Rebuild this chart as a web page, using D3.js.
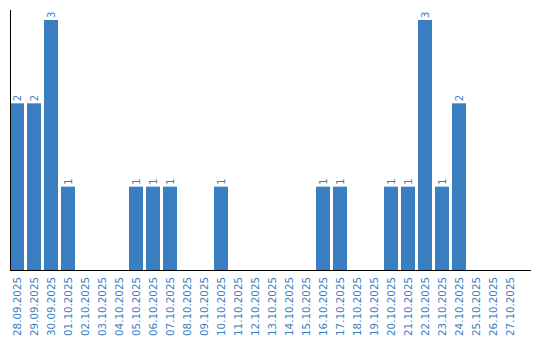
<!DOCTYPE html>
<html>
<head>
<meta charset="utf-8">
<script src="https://cdn.jsdelivr.net/npm/d3@7"></script>
<style>
body { margin: 0; background: #fff; }
text { font-family: "DejaVu Sans", sans-serif; }
</style>
</head>
<body>
<svg id="chart" width="540" height="340"></svg>
<script>
var days = ["28.09.2025", "29.09.2025", "30.09.2025", "01.10.2025", "02.10.2025",
			"03.10.2025", "04.10.2025", "05.10.2025", "06.10.2025", "07.10.2025",
			"08.10.2025", "09.10.2025", "10.10.2025", "11.10.2025", "12.10.2025",
			"13.10.2025", "14.10.2025", "15.10.2025", "16.10.2025", "17.10.2025",
			"18.10.2025", "19.10.2025", "20.10.2025", "21.10.2025", "22.10.2025",
			"23.10.2025", "24.10.2025", "25.10.2025", "26.10.2025", "27.10.2025"];
var counts = [2, 2, 3, 1, 0, 0, 0, 1, 1, 1,
			  0, 0, 1, 0, 0, 0, 0, 0, 1, 1,
			  0, 0, 1, 1, 3, 1, 2, 0, 0, 0];
var barColor = "#3a7ec2";

var data = days.map(function(d, i) { return { day: d, count: counts[i] }; });

var svg = d3.select("#chart");
var left = 10, bottom = 270;

var xScale = d3.scaleBand()
	.domain(days)
	.range([left, left + 17 * days.length - 3])
	.paddingInner(3 / 17)
	.paddingOuter(0);

var yScale = d3.scaleLinear()
	.domain([0, 3])
	.range([bottom, 20]);

svg.selectAll(".bar")
	.data(data.filter(function(d) { return d.count > 0; }))
	.enter().append("rect")
		.attr("class", "bar")
		.attr("fill", barColor)
		.attr("x", function(d) { return xScale(d.day); })
		.attr("y", function(d) { return yScale(d.count); })
		.attr("width", xScale.bandwidth())
		.attr("height", function(d) { return bottom - yScale(d.count); });

// value labels above bars
svg.selectAll(".val")
	.data(data.filter(function(d) { return d.count > 0; }))
	.enter().append("text")
		.attr("class", "val")
		.attr("fill", barColor)
		.style("font-size", "10px")
		.attr("text-anchor", "start")
		.attr("transform", function(d) {
			return "translate(" + (xScale(d.day) + xScale.bandwidth() / 2 + 3.5) + "," + (yScale(d.count) - 2) + ") rotate(-90)";
		})
		.text(function(d) { return d.count; });

// category labels
svg.selectAll(".lbl")
	.data(days)
	.enter().append("text")
		.attr("class", "lbl")
		.attr("fill", barColor)
		.style("font-size", "10.3px")
		.attr("text-anchor", "end")
		.attr("transform", function(d) {
			return "translate(" + (xScale(d) + xScale.bandwidth() / 2 + 3.5) + "," + (bottom + 7) + ") rotate(-90)";
		})
		.text(function(d) { return d; });

// axes lines
svg.append("line")
	.attr("x1", left + 0.5).attr("x2", left + 0.5)
	.attr("y1", 10).attr("y2", bottom)
	.attr("stroke", "#000");

svg.append("line")
	.attr("x1", left).attr("x2", 531)
	.attr("y1", bottom + 0.5).attr("y2", bottom + 0.5)
	.attr("stroke", "#000");
</script>
</body>
</html>
